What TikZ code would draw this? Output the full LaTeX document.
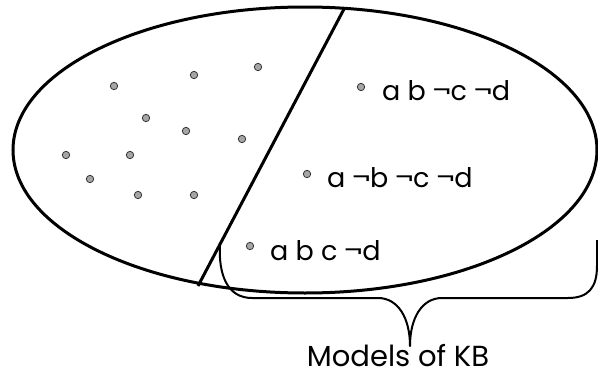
\documentclass[tikz,border=0pt]{standalone}
\usepackage{fontspec}
\setmainfont{Poppins}
\usepackage{tikz}
\usetikzlibrary{positioning, calc}

\begin{document}
\begin{tikzpicture}[x=1pt, y=-1pt,
  every node/.style={font=\fontsize{27}{30}\selectfont, inner sep=0pt},
  world/.style={fill=black!35, draw=black!80, line width=0.8pt},
  model/.style={anchor=base west}]
\useasboundingbox (0,0) rectangle (598,375);
% Space of all models
\draw[line width=3pt] (305,150) ellipse [x radius=292, y radius=143];
% Boundary of the KB region
\coordinate (Top) at (344,9);
\coordinate (Foot) at (198,286);
\draw[line width=3pt] (Foot) -- (Top);
% Models outside KB (gray points)
\foreach \n/\x/\y in {1/114/86, 2/194/75, 3/258/67, 4/146/118, 5/186/131, 6/242/139,
                      7/66/155, 8/130/155, 9/90/179, 10/138/195, 11/194/195} {
  \fill[world] (\x,\y) circle (3.7);
}
% Models of KB
\fill[world] (361,87) circle (3.7) coordinate (M1);
\node[model] (L1) at ($(M1)+(21,13)$) {a b ¬c ¬d};
\fill[world] (307,174) circle (3.7) coordinate (M2);
\node[model] (L2) at ($(M2)+(20,13)$) {a ¬b ¬c ¬d};
\fill[world] (250,246) circle (3.7) coordinate (M3);
\node[model] (L3) at ($(M3)+(20,14)$) {a b c ¬d};
% Brace under the KB models
\coordinate (BL) at (220,243);
\coordinate (Tip) at (410,346);
\coordinate (BR) at (597,240);
\node[font=\fontsize{29}{32}\selectfont, anchor=base] (Cap) at (398,366) {Models of KB};
\draw[line width=2pt, line join=round]
  (BL) .. controls (218,276) and (228,298) .. (252,298) -- (378,298)
  .. controls (398,298) and (410,318) .. (Tip)
  .. controls (410,318) and (422,298) .. (442,298) -- (568,298)
  .. controls (588,298) and (597,288) .. (597,266) -- (BR);
\end{tikzpicture}
\end{document}
